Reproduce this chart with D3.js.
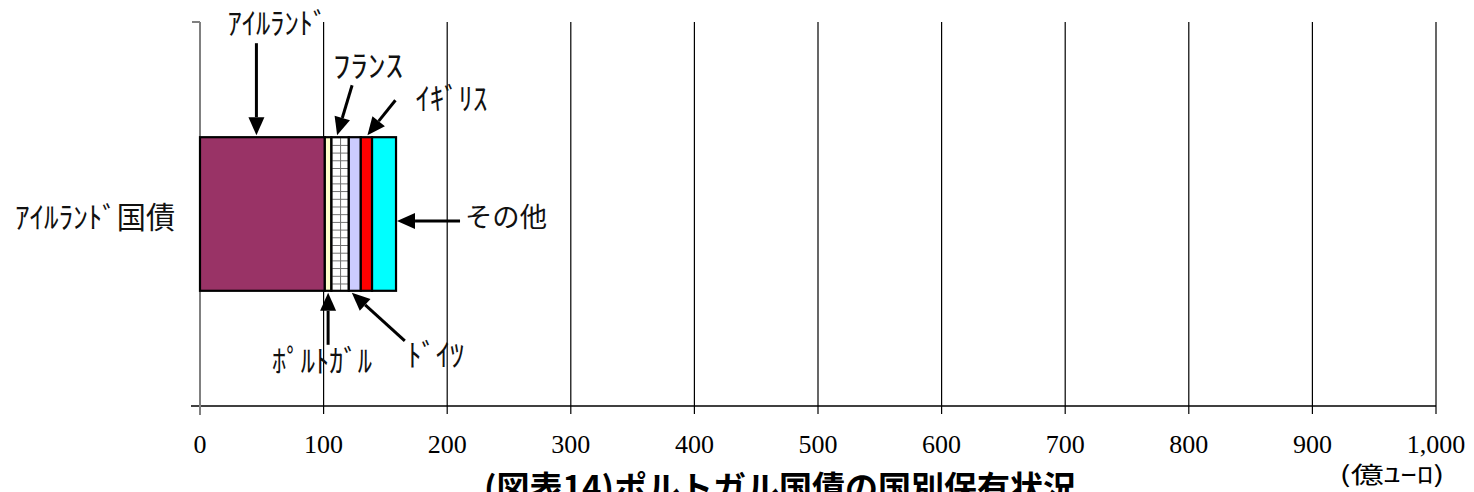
<!DOCTYPE html>
<html><head><meta charset="utf-8">
<script src="https://cdn.jsdelivr.net/npm/d3@7"></script>
<style>body{margin:0;background:#fff} svg{display:block}</style>
</head><body><svg id="c" width="1474" height="492"></svg>
<script>
// ---- data ----
const category = ["ｱｲﾙﾗﾝﾄﾞ国債"];
const holders = ["ｱｲﾙﾗﾝﾄﾞ", "ﾎﾟﾙﾄｶﾞﾙ", "ﾌﾗﾝｽ", "ﾄﾞｲﾂ", "ｲｷﾞﾘｽ", "その他"];
const holdings = [101, 5.3, 14.1, 9.7, 9.1, 19.4];
const tickValues = [0, 100, 200, 300, 400, 500, 600, 700, 800, 900, 1000];
const tickLabels = ["0", "100", "200", "300", "400", "500", "600", "700", "800", "900", "1,000"];
const unitLabel = "(億ﾕｰﾛ)";
const titleText = "(図表14)ポルトガル国債の国別保有状況";

// ---- styles / layout ----
const fills = ["#993366", "#FFFFCC", "url(#gridPat)", "#CCCCFF", "#FF0000", "#00FFFF"];
// annotation layout: side of bar, tip offset from segment, tail & label offsets from tip, label width
const notes = [
  {side: "top", tdx: -6, tail: [0, -92], label: [21, -114], anchor: "middle", w: 100, fs: 30},
  {side: "bottom", tdx: 0, tail: [0, 52], label: [-6, 66], anchor: "middle", w: 100, fs: 31},
  {side: "top", tdx: -3, tail: [15, -50], label: [31, -72], anchor: "middle", w: 70, fs: 31},
  {side: "bottom", tdx: -3, tail: [53, 48], label: [84, 60], anchor: "middle", w: 57, fs: 31},
  {side: "top", tdx: 1, tail: [28, -35], label: [84, -39], anchor: "middle", w: 72, fs: 31},
  {side: "right", tdx: 0, tail: [63, 0], label: [68, -6], anchor: "start", w: 82, fs: 27}
];

const svg = d3.select("#c");
const plotTop = 22, plotBottom = 406;
const x = d3.scaleLinear().domain([0, 1000]).range([200, 1436]);
const y = d3.scaleBand().domain(category).range([plotTop, plotBottom]).paddingInner(0).paddingOuter(0.75);

const jp = "'Noto Sans CJK JP', 'Noto Sans', sans-serif";
const serif = "'Liberation Serif', 'DejaVu Serif', serif";

const ends = d3.cumsum(holdings);
const starts = ends.map((e, i) => e - holdings[i]);

// pattern for France (grid)
const defs = svg.append("defs");
const pat = defs.append("pattern").attr("id", "gridPat")
  .attr("patternUnits", "userSpaceOnUse")
  .attr("x", x(starts[2])).attr("y", y(category[0]))
  .attr("width", 8.7).attr("height", 7.7);
pat.append("rect").attr("width", 8.7).attr("height", 7.7).attr("fill", "#fff");
pat.append("path").attr("d", "M0,0H8.7M0,0V7.7").attr("stroke", "#6e6e6e").attr("stroke-width", 2).attr("fill", "none");

// gridlines
svg.append("g").selectAll("line").data(tickValues.slice(1)).join("line")
  .attr("x1", d => x(d)).attr("x2", d => x(d))
  .attr("y1", plotTop).attr("y2", plotBottom + 8)
  .attr("stroke", "#000").attr("stroke-width", 1.2);

// x axis line
svg.append("line").attr("x1", x(0) - 9).attr("x2", x(1000))
  .attr("y1", plotBottom).attr("y2", plotBottom)
  .attr("stroke", "#000").attr("stroke-width", 1.3);

// y axis line + top tick
svg.append("line").attr("x1", x(0)).attr("x2", x(0))
  .attr("y1", plotTop).attr("y2", plotBottom + 9)
  .attr("stroke", "#808080").attr("stroke-width", 2);
svg.append("line").attr("x1", x(0) - 8).attr("x2", x(0))
  .attr("y1", plotTop).attr("y2", plotTop)
  .attr("stroke", "#808080").attr("stroke-width", 2);

// tick labels
svg.append("g").selectAll("text").data(tickValues).join("text")
  .attr("x", d => x(d)).attr("y", 453)
  .attr("text-anchor", "middle")
  .style("font-family", serif).style("font-size", "26px").attr("fill", "#000")
  .text((d, i) => tickLabels[i]);

// unit label
svg.append("text").attr("x", 1392).attr("y", 483).attr("text-anchor", "middle")
  .attr("textLength", 105).attr("lengthAdjust", "spacingAndGlyphs")
  .style("font-family", jp).style("font-size", "23px").attr("fill", "#000")
  .text(unitLabel);

// category label
svg.append("text").attr("x", 175).attr("y", y(category[0]) + y.bandwidth() / 2 + 1)
  .attr("text-anchor", "end").attr("dominant-baseline", "central")
  .attr("textLength", 160).attr("lengthAdjust", "spacingAndGlyphs")
  .style("font-family", jp).style("font-size", "30px").attr("fill", "#111")
  .text(category[0]);

// bar segments
const by = y(category[0]), bh = y.bandwidth();
svg.append("g").selectAll("rect").data(holdings).join("rect")
  .attr("x", (d, i) => x(starts[i])).attr("width", (d, i) => x(ends[i]) - x(starts[i]))
  .attr("y", by).attr("height", bh)
  .attr("fill", (d, i) => fills[i])
  .attr("stroke", "#000").attr("stroke-width", 2.2);

// annotations
function arrow(g, tip, tail) {
  const dx = tip[0] - tail[0], dy = tip[1] - tail[1];
  const L = Math.hypot(dx, dy), ux = dx / L, uy = dy / L;
  const hl = 18, hw = 8;
  const bx = tip[0] - ux * hl, byy = tip[1] - uy * hl;
  g.append("line").attr("x1", tail[0]).attr("y1", tail[1]).attr("x2", bx).attr("y2", byy)
    .attr("stroke", "#000").attr("stroke-width", 3);
  g.append("path").attr("d", `M${tip[0]},${tip[1]}L${bx - uy * hw},${byy + ux * hw}L${bx + uy * hw},${byy - ux * hw}Z`)
    .attr("fill", "#000");
}
const ag = svg.append("g");
holders.forEach((h, i) => {
  const n = notes[i];
  const cx = (x(starts[i]) + x(ends[i])) / 2 + n.tdx;
  let tip;
  if (n.side === "top") tip = [cx, by - 2];
  else if (n.side === "bottom") tip = [cx, by + bh + 2];
  else tip = [x(ends[i]) + 1, by + bh / 2 + 7];
  const tail = [tip[0] + n.tail[0], tip[1] + n.tail[1]];
  arrow(ag, tip, tail);
  ag.append("text").attr("x", tip[0] + n.label[0]).attr("y", tip[1] + n.label[1])
    .attr("text-anchor", n.anchor).attr("dominant-baseline", "central")
    .attr("textLength", n.w).attr("lengthAdjust", "spacingAndGlyphs")
    .style("font-family", jp).style("font-size", n.fs + "px").attr("fill", "#111")
    .text(h);
});

// title (cut off at the bottom edge, as in the reference)
svg.append("text").attr("x", 780).attr("y", 500).attr("text-anchor", "middle")
  .style("font-family", jp).style("font-size", "33px").style("font-weight", "bold").attr("fill", "#000")
  .text(titleText);
</script></body></html>
